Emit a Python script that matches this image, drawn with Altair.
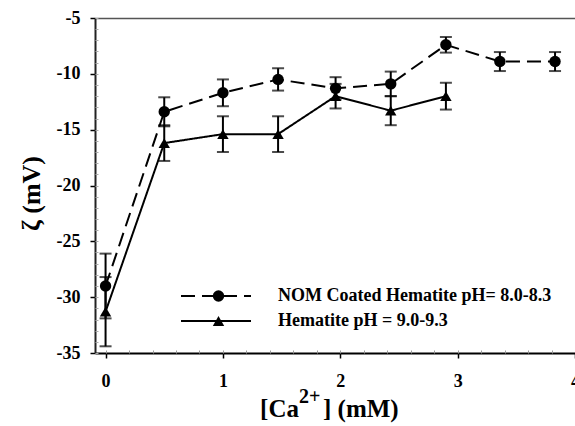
import altair as alt
import pandas as pd

# ---- data ----
x_nom = [0.0, 0.5, 1.0, 1.47, 1.96, 2.43, 2.9, 3.36, 3.83]
y_nom = [-29.0, -13.4, -11.7, -10.5, -11.3, -10.9, -7.4, -8.9, -8.9]
e_nom = [2.9, 1.3, 1.2, 1.0, 1.0, 1.1, 0.7, 0.85, 0.85]

x_hem = [0.0, 0.5, 1.0, 1.47, 1.96, 2.43, 2.9]
y_hem = [-31.3, -16.2, -15.4, -15.4, -12.0, -13.3, -12.0]
e_hem = [3.1, 1.6, 1.6, 1.6, 1.1, 1.3, 1.2]

SERIES = ["NOM Coated Hematite pH= 8.0-8.3", "Hematite pH = 9.0-9.3"]
SIDS = ["A", "B"]

x_major = [0, 1, 2, 3, 4]
x_minor = [round(i * 0.2, 1) for i in range(0, 21)]
y_major = [-35, -30, -25, -20, -15, -10, -5]
y_minor = list(range(-35, -4))

rows = []
for xs_, ys_, es_, s, sid in [(x_nom, y_nom, e_nom, SERIES[0], SIDS[0]),
                              (x_hem, y_hem, e_hem, SERIES[1], SIDS[1])]:
    for x, y, e in zip(xs_, ys_, es_):
        rows.append(dict(x=x, y=y, lo=y - e, hi=y + e, series=s, sid=sid))
df = pd.DataFrame(rows)

FONT = "Liberation Serif"
W, H = 480, 335

xs = alt.Scale(domain=[-0.09, 4.0], nice=False, zero=False)
ys = alt.Scale(domain=[-35, -5], nice=False, zero=False)

base = alt.Chart(df)

line = base.mark_line(color="black", strokeWidth=2).encode(
    x=alt.X("x:Q", scale=xs, axis=alt.Axis(
        values=x_major, title=None, orient="bottom", grid=False,
        domainColor="black", domainWidth=2, tickColor="black", tickSize=5, tickWidth=1.5,
        labelFont=FONT, labelFontSize=18, labelFontWeight="bold", labelColor="black",
        labelPadding=14, labelExpr="'' + datum.value", labelFlush=False, labelOverlap=False)),
    y=alt.Y("y:Q", scale=ys, axis=alt.Axis(
        values=y_major, title="ζ (mV)", orient="left", grid=False,
        domainColor="#222", domainWidth=2, tickColor="black", tickSize=5, tickWidth=1.5,
        labelFont=FONT, labelFontSize=18, labelFontWeight="bold", labelColor="black",
        labelPadding=10, labelExpr="'' + datum.value", labelFlush=False,
        titleFont=FONT, titleFontSize=26, titleFontWeight="bold", titleColor="black",
        titleAngle=-90, titleX=-64, titleY=175, titleAlign="center", titleBaseline="middle")),
    strokeDash=alt.StrokeDash("series:N", scale=alt.Scale(domain=SERIES, range=[[14, 7], [1, 0]]),
        legend=alt.Legend(orient="none", legendX=85, legendY=270, title=None,
                          symbolType="stroke", symbolSize=4900, symbolStrokeWidth=2,
                          symbolStrokeColor="black", clipHeight=16, rowPadding=7,
                          labelFont=FONT, labelFontSize=18, labelFontWeight="bold",
                          labelColor="black", labelOffset=26, labelLimit=400, padding=0)),
)

points = base.mark_point(filled=True, color="black", size=130, opacity=1).encode(
    x=alt.X("x:Q", scale=xs, axis=alt.Axis(
        values=x_minor, title=None, orient="bottom", grid=False, domain=False, labels=False,
        tickColor="#999", tickSize=3, tickWidth=1, offset=-3)),
    y=alt.Y("y:Q", scale=ys, axis=alt.Axis(
        values=y_minor, title=None, orient="left", grid=False, domain=False, labels=False,
        tickColor="#aaa", tickSize=3, tickWidth=1, offset=-3)),
    shape=alt.Shape("sid:N", scale=alt.Scale(domain=SIDS, range=["circle", "triangle-up"]),
        legend=alt.Legend(orient="none", legendX=114.5, legendY=270, title=None,
                          symbolSize=130, symbolFillColor="black", symbolStrokeWidth=0,
                          clipHeight=16, rowPadding=7, labelOpacity=0,
                          labelFontSize=18, padding=0)),
)

err = base.mark_errorbar(ticks=True, size=12, thickness=2, color="black").encode(
    x=alt.X("x:Q", scale=xs, axis=alt.Axis(
        values=x_minor, title=None, orient="top", grid=False, labels=False, ticks=False,
        domainColor="#555", domainWidth=1.5)),
    y=alt.Y("lo:Q", scale=ys, axis=None),
    y2="hi:Q",
)

one = pd.DataFrame({"a": [0]})
t1 = alt.Chart(one).mark_text(text="[Ca", font=FONT, fontSize=25, fontWeight="bold",
                              align="right", baseline="alphabetic", color="black").encode(
    x=alt.value(204), y=alt.value(399))
t2 = alt.Chart(one).mark_text(text="2+", font=FONT, fontSize=20, fontWeight="bold",
                              align="left", baseline="alphabetic", color="black").encode(
    x=alt.value(204), y=alt.value(385))
t3 = alt.Chart(one).mark_text(text="] (mM)", font=FONT, fontSize=25, fontWeight="bold",
                              align="left", baseline="alphabetic", color="black").encode(
    x=alt.value(228), y=alt.value(399))

chart = alt.layer(line, err, points, t1, t2, t3).resolve_axis(
    x="independent", y="independent"
).resolve_legend(strokeDash="independent", shape="independent").properties(
    width=W, height=H,
    autosize=alt.AutoSizeParams(type="none"),
    padding={"left": 95, "top": 18, "right": 0, "bottom": 73},
).configure_view(stroke="#ccc", strokeWidth=1).configure(background="white")

chart.save("out.html", embed_options={"renderer": "svg", "actions": False})
